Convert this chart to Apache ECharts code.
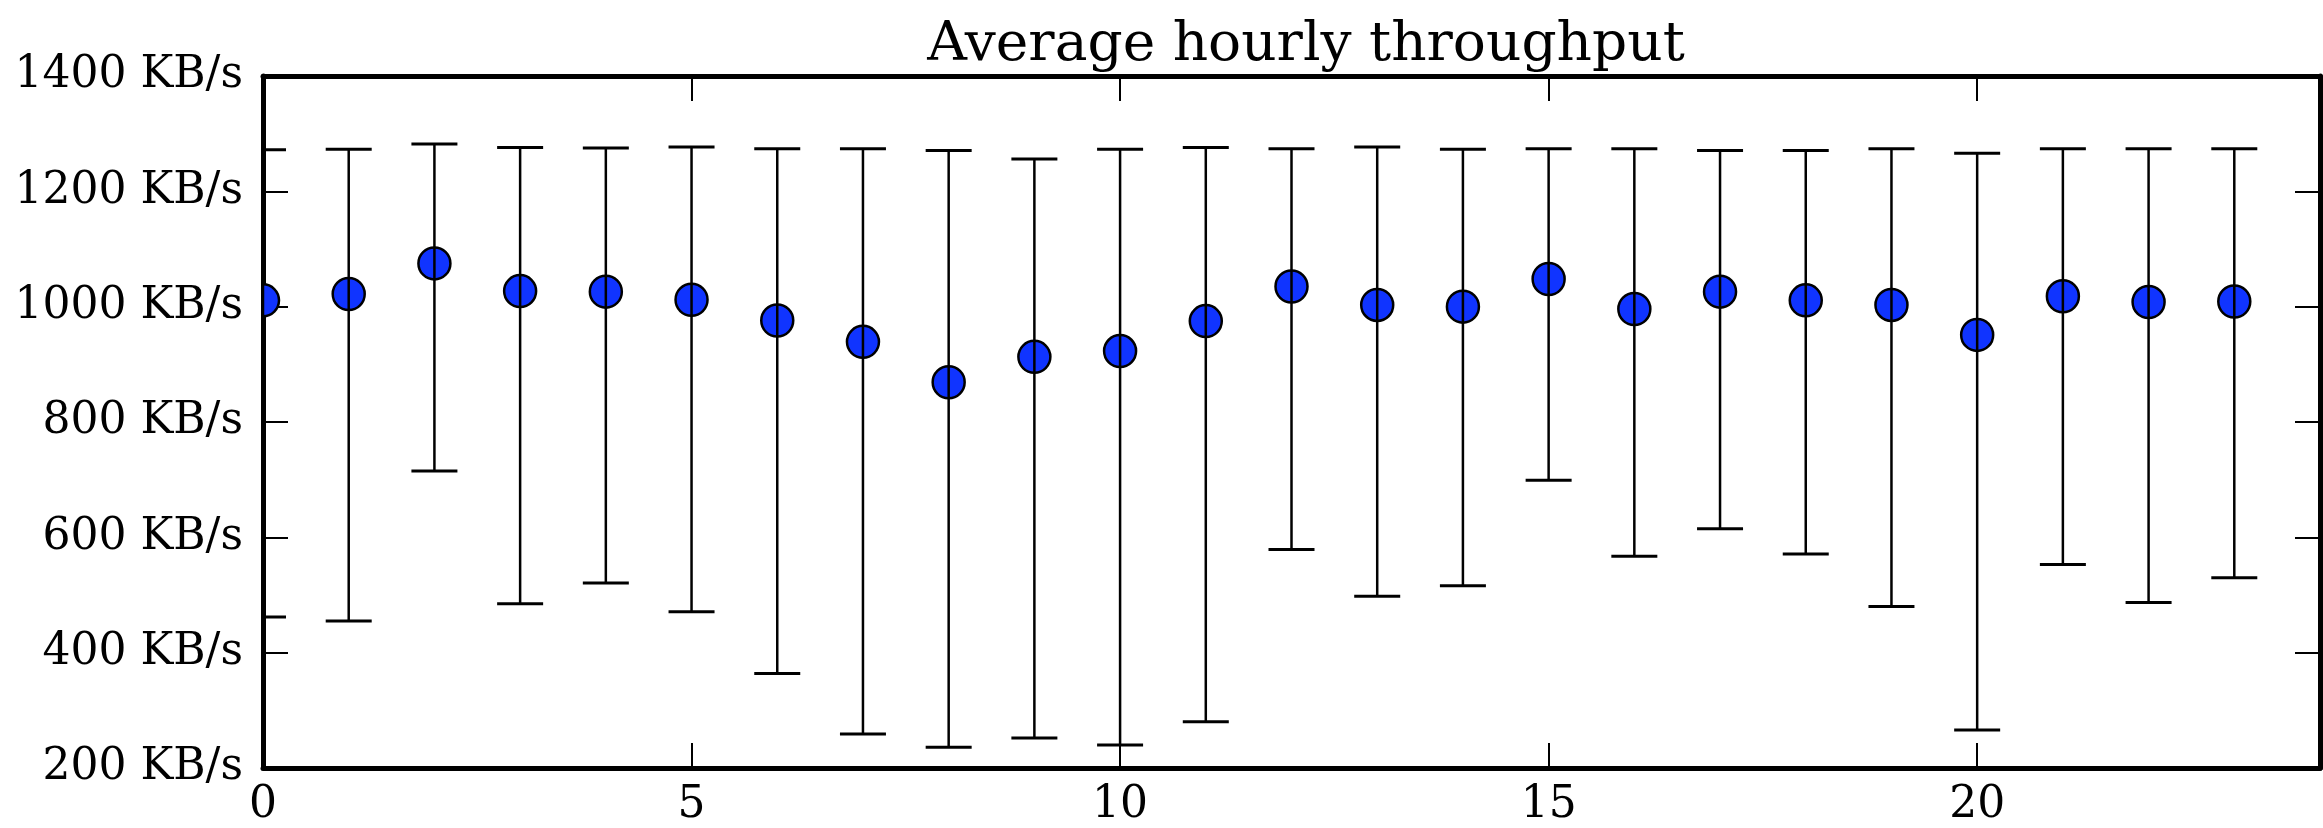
<!DOCTYPE html>
<html>
<head>
<meta charset="utf-8">
<script src="https://cdn.jsdelivr.net/npm/echarts@6/dist/echarts.min.js"></script>
<style>
html,body{margin:0;padding:0;background:#fff;}
#chart{width:2323px;height:828px;}
</style>
</head>
<body>
<div id="chart"></div>
<script>
const hours = [0,1,2,3,4,5,6,7,8,9,10,11,12,13,14,15,16,17,18,19,20,21,22,23];
const meanValues = [1011,1022,1075,1027,1026,1012,976,939,869,913,923,975,1035,1003,1000,1048,996,1026,1011,1003,951,1018,1008,1009];
const highValues = [1272,1273,1282,1276,1275,1277,1274,1274,1271,1256,1273,1276,1274,1277,1273,1274,1274,1271,1271,1274,1266,1274,1274,1274];
const lowValues = [462,455,715,485,521,471,364,259,236,252,240,280,579,498,516,699,567,615,571,480,266,553,487,530];
const yTicks = [200,400,600,800,1000,1200,1400];
const xTicks = [0,5,10,15,20];
const titleText = 'Average hourly throughput';
const unit = ' KB/s';

const FONT = '"DejaVu Serif", "Liberation Serif", serif';
const data = hours.map((h, i) => [h, meanValues[i], lowValues[i], highValues[i]]);

const chart = echarts.init(document.getElementById('chart'), null, {renderer: 'canvas'});

const axisCommon = {
  type: 'value',
  axisLine: {show: true, onZero: false, lineStyle: {color: '#000', width: 5}},
  axisTick: {show: true, inside: true, length: 25, lineStyle: {color: '#000', width: 2}},
  splitLine: {show: false}
};

chart.setOption({
  animation: false,
  backgroundColor: '#fff',
  title: {
    text: titleText,
    left: 1301, textAlign: 'center',
    top: 13,
    textStyle: {fontFamily: FONT, fontSize: 55, fontWeight: 'normal', color: '#000'}
  },
  grid: {left: 263, right: 2, top: 76, bottom: 60, containLabel: false},
  xAxis: [
    Object.assign({}, axisCommon, {
      position: 'bottom', min: 0, max: 24, interval: 5,
      axisLabel: {show: true, margin: 16, fontFamily: FONT, fontSize: 44, color: '#000',
        formatter: v => (xTicks.indexOf(v) >= 0 ? String(v) : '')}
    }),
    Object.assign({}, axisCommon, {
      position: 'top', min: 0, max: 24, interval: 5,
      axisLabel: {show: false}
    })
  ],
  yAxis: [
    Object.assign({}, axisCommon, {
      position: 'left', min: 200, max: 1400, interval: 200,
      axisLabel: {show: true, margin: 20, fontFamily: FONT, fontSize: 44, color: '#000',
        formatter: v => (yTicks.indexOf(v) >= 0 ? v + unit : '')}
    }),
    Object.assign({}, axisCommon, {
      position: 'right', min: 200, max: 1400, interval: 200,
      axisLabel: {show: false}
    })
  ],
  series: [{
    type: 'custom',
    clip: true,
    xAxisIndex: 0, yAxisIndex: 0,
    data: data,
    encode: {x: 0, y: [1, 2, 3]},
    renderItem: function (params, api) {
      const x = api.value(0);
      const m = api.coord([x, api.value(1)]);
      const lo = api.coord([x, api.value(2)]);
      const hi = api.coord([x, api.value(3)]);
      const capHalf = 23;
      const lineStyle = {stroke: '#000', lineWidth: 2.5};
      return {
        type: 'group',
        children: [
          {type: 'circle', shape: {cx: m[0], cy: m[1], r: 16}, style: {fill: '#1034ff', stroke: '#000', lineWidth: 2.5}},
          {type: 'line', shape: {x1: lo[0], y1: lo[1], x2: hi[0], y2: hi[1]}, style: lineStyle},
          {type: 'line', shape: {x1: lo[0] - capHalf, y1: lo[1], x2: lo[0] + capHalf, y2: lo[1]}, style: {stroke: '#000', lineWidth: 3}},
          {type: 'line', shape: {x1: hi[0] - capHalf, y1: hi[1], x2: hi[0] + capHalf, y2: hi[1]}, style: {stroke: '#000', lineWidth: 3}}
        ]
      };
    }
  }]
});
</script>
</body>
</html>
